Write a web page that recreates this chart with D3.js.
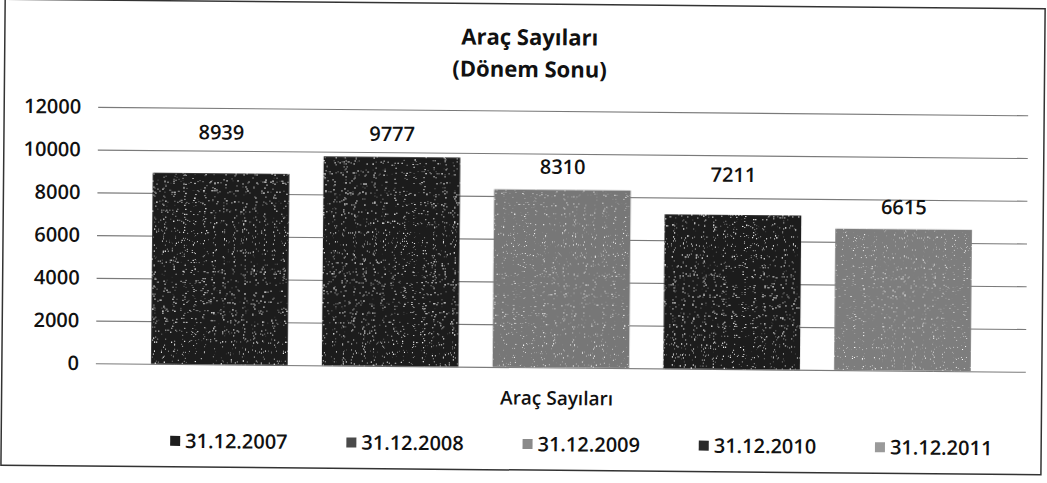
<!DOCTYPE html>
<html>
<head>
<meta charset="utf-8">
<script src="https://cdn.jsdelivr.net/npm/d3@7"></script>
<style>
  body { margin: 0; background: #fff; }
  svg { display: block; }
  text { font-family: "Open Sans", "DejaVu Sans", sans-serif; fill: #111; }
</style>
</head>
<body>
<svg id="chart" width="1047" height="483"></svg>
<script>
// Chart text
const titleLines = ["Araç Sayıları", "(Dönem Sonu)"];
const categoryLabel = "Araç Sayıları";

// Series (one bar per period end) and their values
const seriesNames = ["31.12.2007", "31.12.2008", "31.12.2009", "31.12.2010", "31.12.2011"];
const seriesValues = [8939, 9777, 8310, 7211, 6615];

// Value axis ticks
const yTicks = [0, 2000, 4000, 6000, 8000, 10000, 12000];

// Styling
const barColors = ["#1a1a1a", "#1c1c1c", "#777777", "#1b1b1b", "#7d7d7d"];
const legendColors = ["#1e1e1e", "#4a4a4a", "#8a8a8a", "#2a2a2a", "#9a9a9a"];
const labelLift = [41, 23, 23, 40, 22];   // distance of each data label above its bar

const plot = { left: 97, right: 1027, bottom: 367.2, top: 110.7 };

const svg = d3.select("#chart");

// Print-style grain for the bar fills
const defs = svg.append("defs");
const grain = defs.append("filter").attr("id", "grain")
  .attr("x", 0).attr("y", 0).attr("width", 1).attr("height", 1);
grain.append("feTurbulence")
  .attr("type", "fractalNoise").attr("baseFrequency", 0.9)
  .attr("numOctaves", 1).attr("seed", 7).attr("result", "noise");
grain.append("feColorMatrix")
  .attr("in", "noise").attr("type", "matrix")
  .attr("values", "0 0 0 0 1  0 0 0 0 1  0 0 0 0 1  9 0 0 0 -6.0")
  .attr("result", "specks");
grain.append("feComposite")
  .attr("in", "specks").attr("in2", "SourceGraphic")
  .attr("operator", "in").attr("result", "clipped");
const merge = grain.append("feMerge");
merge.append("feMergeNode").attr("in", "SourceGraphic");
merge.append("feMergeNode").attr("in", "clipped");

const g = svg.append("g").attr("transform", "rotate(0.52 523.5 241.5)");

// Chart frame
g.append("rect")
  .attr("x", 3).attr("y", 4)
  .attr("width", 1040).attr("height", 466)
  .attr("fill", "none")
  .attr("stroke", "#333")
  .attr("stroke-width", 1.5);

const y = d3.scaleLinear().domain([0, 12000]).range([plot.bottom, plot.top]);
const x = d3.scaleBand()
  .domain(seriesNames)
  .range([plot.left, plot.right])
  .paddingInner(0.2)
  .paddingOuter(0.323);

// Gridlines + value axis labels
const yAxis = g.append("g")
  .attr("transform", `translate(${plot.left},0)`)
  .call(d3.axisLeft(y)
    .tickValues(yTicks)
    .tickFormat(d3.format("d"))
    .tickSize(-(plot.right - plot.left))
    .tickPadding(17));
yAxis.select(".domain").remove();
yAxis.selectAll(".tick line").attr("stroke", "#7a7a7a").attr("stroke-width", 1.1);
yAxis.selectAll(".tick text")
  .attr("font-size", 20)
  .attr("font-weight", 600)
  .attr("font-family", "Open Sans")
  .attr("fill", "#111");

// Bars
const data = seriesNames.map((name, i) => ({ name, value: seriesValues[i], i }));
g.append("g").selectAll("rect")
  .data(data)
  .join("rect")
  .attr("x", d => x(d.name))
  .attr("y", d => y(d.value))
  .attr("width", x.bandwidth())
  .attr("height", d => y(0) - y(d.value))
  .attr("fill", d => barColors[d.i])
  .attr("filter", "url(#grain)");

// Data labels
g.append("g").selectAll("text")
  .data(data)
  .join("text")
  .attr("x", d => x(d.name) + x.bandwidth() / 2)
  .attr("y", d => y(d.value) - labelLift[d.i])
  .attr("dy", "0.35em")
  .attr("text-anchor", "middle")
  .attr("font-size", 20)
  .attr("font-weight", 600)
  .text(d => d.value);

// Chart title
g.append("g").selectAll("text")
  .data(titleLines)
  .join("text")
  .attr("x", 528)
  .attr("y", (d, i) => 45 + i * 32)
  .attr("text-anchor", "middle")
  .attr("font-size", 22)
  .attr("font-weight", "bold")
  .text(d => d);

// Category axis title
g.append("text")
  .attr("x", 558)
  .attr("y", 398)
  .attr("dy", "0.35em")
  .attr("text-anchor", "middle")
  .attr("font-size", 19)
  .attr("font-weight", 600)
  .text(categoryLabel);

// Legend
const legend = g.append("g").selectAll("g")
  .data(data)
  .join("g")
  .attr("transform", d => `translate(${172 + d.i * 176.2},444)`);
legend.append("rect")
  .attr("x", 0).attr("y", -5)
  .attr("width", 10).attr("height", 10)
  .attr("fill", d => legendColors[d.i]);
legend.append("text")
  .attr("x", 15)
  .attr("dy", "0.35em")
  .attr("font-size", 20)
  .attr("font-weight", 600)
  .text(d => d.name);
</script>
</body>
</html>
